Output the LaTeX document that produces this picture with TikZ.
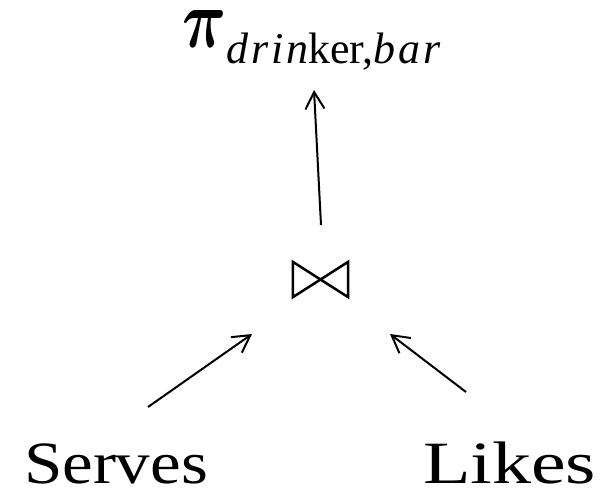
\RequirePackage{fix-cm}
\documentclass[tikz,border=0pt]{standalone}
\usepackage[no-math]{fontspec}
\usepackage{bm}
\setmainfont{Liberation Serif}
\usetikzlibrary{arrows.meta}
\tikzset{
  arr/.style={line width=2pt,-{Straight Barb[length=17pt,width=19pt,line width=2pt]}},
  lbl/.style={anchor=base west,inner sep=0pt,outer sep=0pt},
  joinbox/.style={inner sep=0pt,minimum width=55pt,minimum height=35pt}
}
\begin{document}
\begin{tikzpicture}[x=1pt,y=1pt]
\useasboundingbox (0,0) rectangle (603,-496);
% texts
\node[lbl] (proj) at (182,-47) {\resizebox{44pt}{37pt}{$\bm{\pi}$}\hspace{0pt}\raisebox{-16pt}{\fontsize{44}{44}\selectfont\textit{d\kern3pt r\kern3pt i\kern3pt n}ker,\textit{b\kern3pt a\kern3pt r}}};
\node[lbl] (serves) at (24,-483) {\scalebox{1.15}[1]{\fontsize{60}{60}\selectfont Serves}};
\node[lbl] (likes) at (423,-483) {\scalebox{1.3}[1]{\fontsize{60}{60}\selectfont Likes}};
% join symbol
\node[joinbox] (join) at (320.5,-279.5) {};
\draw[line width=2.5pt,line join=miter] (join.north west) -- (join.south east) -- (join.north east) -- (join.south west) -- cycle;
% connector ends
\coordinate (jtop) at (321,-225);
\coordinate (ptip) at (314,-90);
\coordinate (stail) at (148,-407);
\coordinate (stip) at (252,-334);
\coordinate (ltail) at (466,-392);
\coordinate (ltip) at (390,-334);
\draw[arr] (jtop) -- (ptip);
\draw[arr] (stail) -- (stip);
\draw[arr] (ltail) -- (ltip);
\end{tikzpicture}
\end{document}
